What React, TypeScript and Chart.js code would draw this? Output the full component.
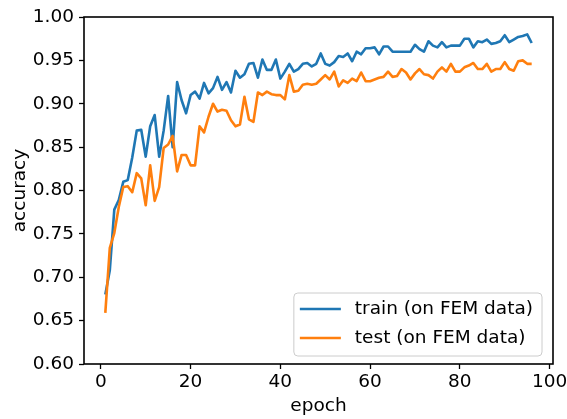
import React, { useEffect, useRef } from "react";
import { Chart, registerables } from "chart.js";

Chart.register(...registerables);

const FONT_FAMILY = "'DejaVu Sans', 'Liberation Sans', sans-serif";
const FONT_SIZE = 18.5;

// Epoch index for every recorded value (epochs 1..96)
const epochs: number[] = Array.from({ length: 96 }, (_, i) => i + 1);

const trainAcc: number[] = [
  0.680, 0.708, 0.778, 0.789, 0.810, 0.812, 0.838, 0.869, 0.870, 0.839,
  0.874, 0.887, 0.839, 0.869, 0.909, 0.850, 0.925, 0.904, 0.889, 0.910,
  0.914, 0.906, 0.924, 0.912, 0.918, 0.931, 0.916, 0.925, 0.913, 0.938,
  0.930, 0.934, 0.946, 0.947, 0.930, 0.951, 0.939, 0.939, 0.951, 0.929,
  0.937, 0.946, 0.937, 0.940, 0.946, 0.947, 0.943, 0.946, 0.958, 0.946,
  0.944, 0.948, 0.955, 0.954, 0.958, 0.949, 0.960, 0.957, 0.964, 0.964,
  0.965, 0.957, 0.966, 0.966, 0.960, 0.960, 0.960, 0.960, 0.960, 0.968,
  0.963, 0.960, 0.972, 0.967, 0.965, 0.971, 0.965, 0.967, 0.967, 0.967,
  0.975, 0.975, 0.965, 0.972, 0.971, 0.974, 0.969, 0.970, 0.972, 0.979,
  0.971, 0.974, 0.977, 0.978, 0.980, 0.970,
];

const testAcc: number[] = [
  0.659, 0.734, 0.751, 0.781, 0.804, 0.805, 0.798, 0.820, 0.814, 0.783,
  0.829, 0.788, 0.804, 0.849, 0.853, 0.863, 0.822, 0.841, 0.841, 0.829,
  0.829, 0.874, 0.867, 0.885, 0.900, 0.891, 0.893, 0.892, 0.881, 0.874,
  0.876, 0.908, 0.882, 0.879, 0.913, 0.910, 0.914, 0.911, 0.910, 0.910,
  0.905, 0.933, 0.914, 0.915, 0.922, 0.923, 0.922, 0.923, 0.928, 0.933,
  0.928, 0.937, 0.920, 0.927, 0.924, 0.929, 0.926, 0.936, 0.926, 0.926,
  0.928, 0.930, 0.931, 0.937, 0.931, 0.932, 0.940, 0.936, 0.928, 0.935,
  0.940, 0.934, 0.933, 0.929, 0.937, 0.942, 0.937, 0.946, 0.937, 0.937,
  0.942, 0.944, 0.947, 0.940, 0.940, 0.946, 0.937, 0.940, 0.940, 0.948,
  0.940, 0.938, 0.949, 0.950, 0.946, 0.946,
];

const xTickValues = [0, 20, 40, 60, 80, 100];
const yTickValues = [0.6, 0.65, 0.7, 0.75, 0.8, 0.85, 0.9, 0.95, 1.0];
const seriesLabels = ["train (on FEM data)", "test (on FEM data)"];
const seriesColors = ["#1f77b4", "#ff7f0e"];

// Black frame around the plotting area (all four spines)
const framePlugin = {
  id: "frame",
  afterDatasetsDraw(chart: any) {
    const { ctx, chartArea: a } = chart;
    ctx.save();
    ctx.strokeStyle = "#000";
    ctx.lineWidth = 1.6;
    ctx.strokeRect(a.left, a.top, a.right - a.left, a.bottom - a.top);
    ctx.restore();
  },
};

// Boxed legend in the lower-right corner of the plotting area
const boxLegendPlugin = {
  id: "boxLegend",
  afterDraw(chart: any) {
    const { ctx, chartArea: a } = chart;
    const items = chart.data.datasets.map((d: any) => ({
      label: d.label as string,
      color: d.borderColor as string,
    }));
    ctx.save();
    ctx.font = `${FONT_SIZE}px ${FONT_FAMILY}`;
    const textW = Math.max(...items.map((it: any) => ctx.measureText(it.label).width));
    const padL = 6;
    const handle = 41;
    const gap = 14;
    const padR = 9;
    const rowH = 29;
    const firstRow = 16;
    const w = padL + handle + gap + textW + padR;
    const h = firstRow + rowH * (items.length - 1) + 18;
    const right = a.right - 11;
    const bottom = a.bottom - 8;
    const left = right - w;
    const top = bottom - h;
    const r = 4;

    ctx.beginPath();
    ctx.moveTo(left + r, top);
    ctx.lineTo(right - r, top);
    ctx.arcTo(right, top, right, top + r, r);
    ctx.lineTo(right, bottom - r);
    ctx.arcTo(right, bottom, right - r, bottom, r);
    ctx.lineTo(left + r, bottom);
    ctx.arcTo(left, bottom, left, bottom - r, r);
    ctx.lineTo(left, top + r);
    ctx.arcTo(left, top, left + r, top, r);
    ctx.closePath();
    ctx.fillStyle = "rgba(255,255,255,0.8)";
    ctx.fill();
    ctx.strokeStyle = "#cccccc";
    ctx.lineWidth = 1;
    ctx.stroke();

    items.forEach((it: any, i: number) => {
      const y = top + firstRow + i * rowH;
      ctx.beginPath();
      ctx.moveTo(left + padL, y);
      ctx.lineTo(left + padL + handle, y);
      ctx.strokeStyle = it.color;
      ctx.lineWidth = 2.6;
      ctx.stroke();
      ctx.fillStyle = "#000";
      ctx.textAlign = "left";
      ctx.textBaseline = "middle";
      ctx.fillText(it.label, left + padL + handle + gap, y);
    });
    ctx.restore();
  },
};

export default function App() {
  const canvasRef = useRef<HTMLCanvasElement | null>(null);

  useEffect(() => {
    const canvas = canvasRef.current;
    if (!canvas) return;
    const font = { family: FONT_FAMILY, size: FONT_SIZE };
    const tickGrid = {
      display: true,
      drawOnChartArea: false,
      drawTicks: true,
      tickLength: 5,
      tickWidth: 1.3,
      tickColor: "#000",
    };

    const chart = new Chart(canvas, {
      type: "line",
      data: {
        datasets: [
          {
            label: seriesLabels[0],
            data: epochs.map((e, i) => ({ x: e, y: trainAcc[i] })),
            borderColor: seriesColors[0],
            backgroundColor: seriesColors[0],
            borderWidth: 2.6,
            pointRadius: 0,
            tension: 0,
            fill: false,
            borderJoinStyle: "round",
            order: 2,
          },
          {
            label: seriesLabels[1],
            data: epochs.map((e, i) => ({ x: e, y: testAcc[i] })),
            borderColor: seriesColors[1],
            backgroundColor: seriesColors[1],
            borderWidth: 2.6,
            pointRadius: 0,
            tension: 0,
            fill: false,
            borderJoinStyle: "round",
            order: 1,
          },
        ],
      },
      options: {
        animation: false,
        responsive: false,
        devicePixelRatio: 1,
        events: [],
        layout: { padding: { left: 0, top: 17, right: 14, bottom: 0 } },
        plugins: {
          legend: { display: false },
          tooltip: { enabled: false },
        },
        scales: {
          x: {
            type: "linear",
            min: -3.75,
            max: 100.75,
            afterBuildTicks: (scale: any) => {
              scale.ticks = xTickValues.map((v) => ({ value: v }));
            },
            afterFit: (scale: any) => {
              scale.height = 55;
              scale.paddingLeft = 0;
              scale.paddingRight = 0;
            },
            grid: tickGrid,
            border: { display: false },
            ticks: {
              color: "#000",
              font,
              padding: 2,
              maxRotation: 0,
              autoSkip: false,
              callback: (v: any) => String(v),
            },
            title: {
              display: true,
              text: "epoch",
              color: "#000",
              font,
              padding: { top: 0, bottom: 2 },
            },
          },
          y: {
            type: "linear",
            min: 0.6,
            max: 1.0,
            afterBuildTicks: (scale: any) => {
              scale.ticks = yTickValues.map((v) => ({ value: v }));
            },
            afterFit: (scale: any) => {
              scale.width = 84;
              scale.paddingTop = 0;
              scale.paddingBottom = 0;
            },
            grid: tickGrid,
            border: { display: false },
            ticks: {
              color: "#000",
              font,
              padding: 5,
              autoSkip: false,
              callback: (v: any) => Number(v).toFixed(2),
            },
            title: {
              display: true,
              text: "accuracy",
              color: "#000",
              font,
              padding: { top: 9, bottom: 0 },
            },
          },
        },
      },
      plugins: [framePlugin, boxLegendPlugin],
    } as any);

    return () => chart.destroy();
  }, []);

  return (
    <div
      style={{
        position: "fixed",
        left: 0,
        top: 0,
        width: 567,
        height: 419,
        background: "#fff",
      }}
    >
      <canvas ref={canvasRef} width={567} height={419} style={{ display: "block" }} />
    </div>
  );
}
